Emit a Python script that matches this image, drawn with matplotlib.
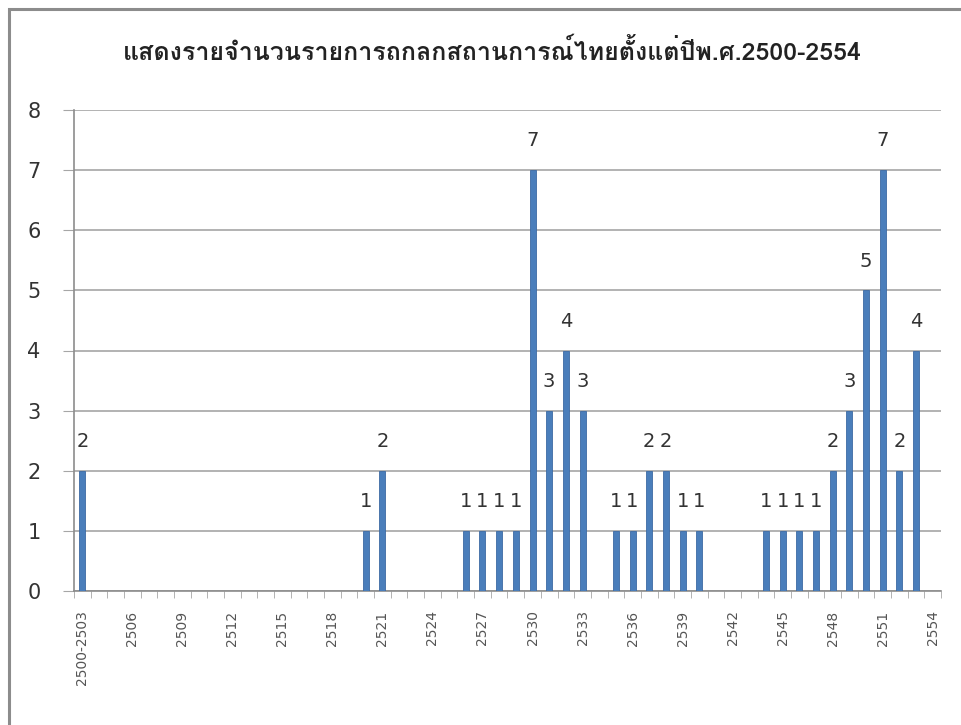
import matplotlib
matplotlib.use("Agg")
import matplotlib.pyplot as plt
from matplotlib import font_manager, ft2font
from matplotlib.patches import Rectangle

# --- data ---
categories = ["2500-2503"] + [str(y) for y in range(2504, 2555)]
counts = [
    2,                                              # 2500-2503
    0, 0, 0, 0, 0, 0, 0, 0, 0, 0, 0, 0, 0, 0, 0, 0, # 2504-2519
    1, 2,                                           # 2520-2521
    0, 0, 0, 0,                                     # 2522-2525
    1, 1, 1, 1,                                     # 2526-2529
    7, 3, 4, 3,                                     # 2530-2533
    0,                                              # 2534
    1, 1, 2, 2, 1, 1,                               # 2535-2540
    0, 0, 0,                                        # 2541-2543
    1, 1, 1, 1,                                     # 2544-2547
    2, 3, 5, 7, 2, 4,                               # 2548-2553
    0,                                              # 2554
]
title = "แสดงรายจำนวนรายการถกลกสถานการณ์ไทยตั้งแต่ปีพ.ศ.2500-2554"
label_step = 3


def thai_family():
    for fe in font_manager.fontManager.ttflist:
        try:
            if 0x0E01 in ft2font.FT2Font(fe.fname).get_charmap():
                return fe.name
        except Exception:
            pass
    return None


fam = thai_family()
families = ([fam] if fam else []) + ["DejaVu Sans"]

fig = plt.figure(figsize=(9.62, 7.25), dpi=100)
fig.patch.set_facecolor("white")

# chart frame (top and left edges visible)
fig.add_artist(Rectangle((9 / 962, -0.05), 1.1, 1.05 - 9 / 725,
                         transform=fig.transFigure, fill=False,
                         edgecolor="#8c8c8c", lw=2.2))

ax = fig.add_axes([74 / 962, 1 - 591 / 725, (941 - 74) / 962, (591 - 110) / 725])

x = list(range(len(categories)))
ax.bar(x, counts, width=0.36, color="#4a7ebb", edgecolor="#3c6aa3",
       linewidth=0.6, zorder=3)

for xi, v in zip(x, counts):
    if v > 0:
        ax.annotate(str(v), (xi, v), xytext=(0, 21), textcoords="offset points",
                    ha="center", va="center", fontsize=14, color="#333333",
                    family="DejaVu Sans")

ax.set_xlim(-0.5, len(categories) - 0.5)
ax.set_ylim(0, 8)
ax.set_yticks(range(0, 9))
ax.yaxis.grid(True, color="#a6a6a6", lw=1.2, zorder=0)
ax.tick_params(axis="y", length=8, color="#a6a6a6", labelsize=15,
               labelcolor="#333333", pad=16)

major = x[::label_step]
ax.set_xticks(major)
ax.set_xticklabels([categories[i] for i in major], rotation=90,
                   fontsize=10, color="#555555")
ax.set_xticks([i - 0.5 for i in range(len(categories) + 1)], minor=True)
ax.tick_params(axis="x", which="major", length=0, pad=14)
ax.tick_params(axis="x", which="minor", length=5, color="#a6a6a6")

for side in ("top", "right"):
    ax.spines[side].set_visible(False)
for side in ("left", "bottom"):
    ax.spines[side].set_color("#8c8c8c")
    ax.spines[side].set_linewidth(1.2)

fig.text(492 / 962, 1 - 52 / 725, title, ha="center", va="center",
         fontsize=18, fontweight="bold", color="#222222", family=families)

fig.savefig("out.png", dpi=100, facecolor="white")
